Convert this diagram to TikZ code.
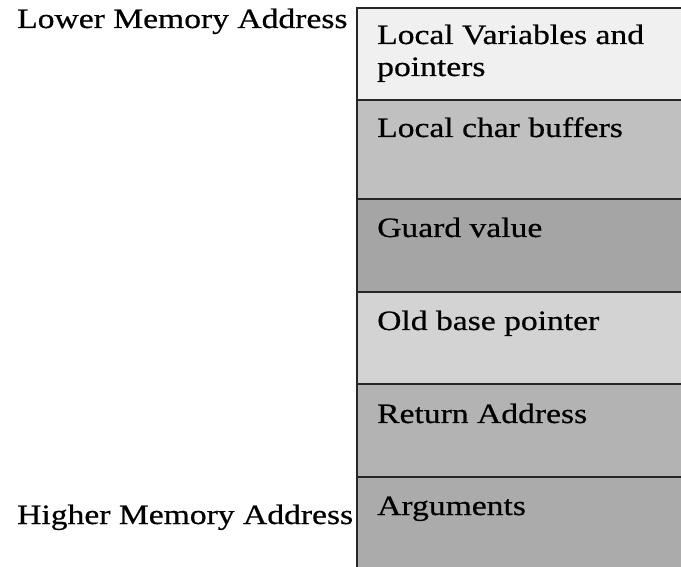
\documentclass[tikz,border=0pt]{standalone}
\usepackage{fontspec}
\setmainfont{Liberation Serif}[FakeStretch=1.2,FakeBold=0.6]
\usepackage{xcolor}

\definecolor{rowA}{HTML}{F0F0F0}
\definecolor{rowB}{HTML}{C0C0C0}
\definecolor{rowC}{HTML}{A5A5A5}
\definecolor{rowD}{HTML}{D3D3D3}
\definecolor{rowE}{HTML}{B3B3B3}
\definecolor{rowF}{HTML}{ABABAB}

\tikzset{
  cell/.style={draw=black!85,line width=1.6pt,rectangle,anchor=north west,
    minimum width=360pt,inner sep=0pt,outer sep=0pt},
  lbl/.style={anchor=base west,inner sep=0pt,align=left,
    font=\fontsize{28pt}{32pt}\selectfont}
}

\begin{document}
\begin{tikzpicture}[x=1pt,y=1pt]
    \useasboundingbox (0,0) rectangle (681,566);
    \clip (0,0) rectangle (681,566);

                        % stack frame, top = lower addresses
                        \node (locvar) at (357,558) [cell,fill=rowA,minimum height=92pt] {};
                        \node (charbuf) at (357,466) [cell,fill=rowB,minimum height=99pt] {};
                        \node (guard) at (357,367) [cell,fill=rowC,minimum height=93pt] {};
                        \node (oldbp) at (357,274) [cell,fill=rowD,minimum height=92pt] {};
                        \node (retaddr) at (357,182) [cell,fill=rowE,minimum height=93pt] {};
                        \node (args) at (357,89) [cell,fill=rowF,minimum height=100pt] {};

                        % base of a two-line node sits on its last line
                        \node (locvarT) at ([xshift=20pt,yshift=-68pt]locvar.north west) [lbl] {Local Variables and\\pointers};
                        \node (charbufT) at ([xshift=20pt,yshift=-37pt]charbuf.north west) [lbl] {Local char buffers};
                        \node (guardT) at ([xshift=20pt,yshift=-38pt]guard.north west) [lbl] {Guard value};
                        \node (oldbpT) at ([xshift=20pt,yshift=-38pt]oldbp.north west) [lbl] {Old base pointer};
                        \node (retaddrT) at ([xshift=20pt,yshift=-39pt]retaddr.north west) [lbl] {Return Address};
                        \node (argsT) at ([xshift=20pt,yshift=-38pt]args.north west) [lbl] {Arguments};

                        % address direction labels
                        \node (low) at (17,538) [lbl] {Lower Memory Address};
                        \node (high) at (17,42) [lbl] {Higher Memory Address};
                \end{tikzpicture}
\end{document}
